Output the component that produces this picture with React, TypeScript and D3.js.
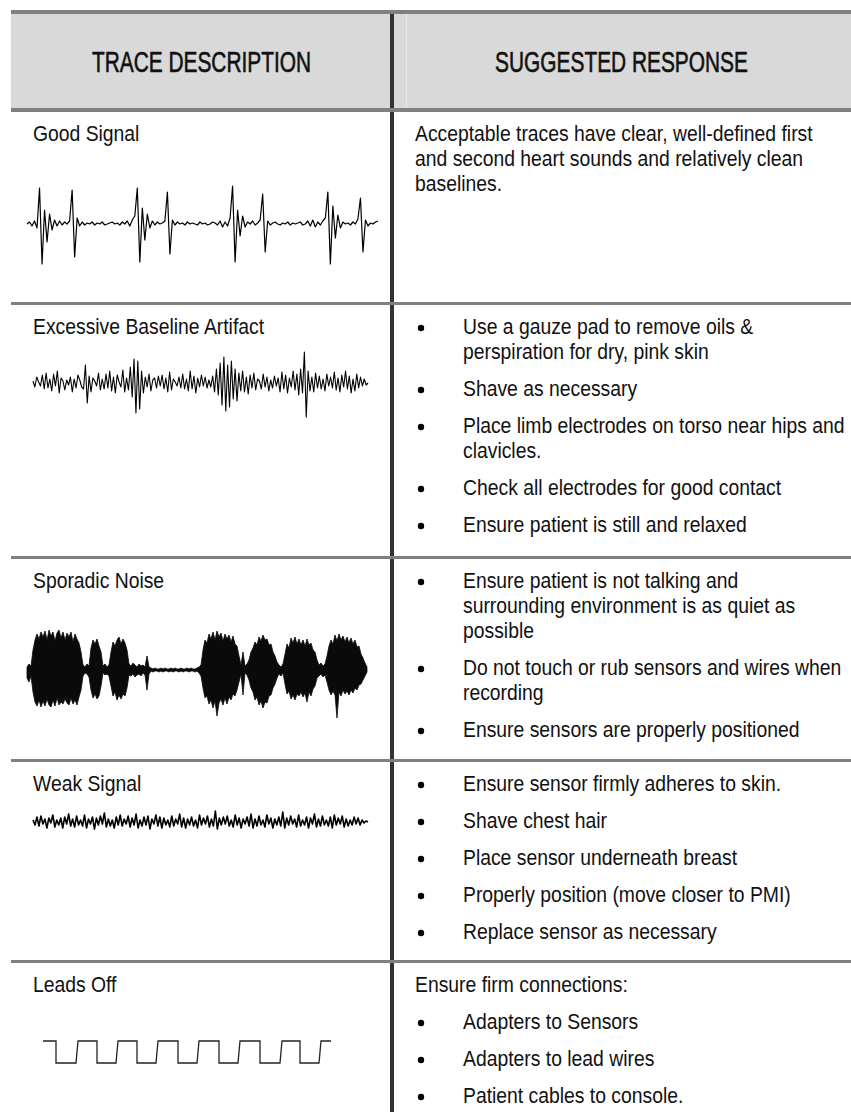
import React from 'react';
import * as d3 from 'd3';

// ---------- data ----------
const headers = ['TRACE DESCRIPTION', 'SUGGESTED RESPONSE'];
const traceLabels = ['Good Signal', 'Excessive Baseline Artifact', 'Sporadic Noise', 'Weak Signal', 'Leads Off'];

type Item = { bullet: boolean; lines: string[] };
const responseGood: Item[] = [
  { bullet: false, lines: ['Acceptable traces have clear, well-defined first', 'and second heart sounds and relatively clean', 'baselines.'] },
];
const responseArtifact: Item[] = [
  { bullet: true, lines: ['Use a gauze pad to remove oils &', 'perspiration for dry, pink skin'] },
  { bullet: true, lines: ['Shave as necessary'] },
  { bullet: true, lines: ['Place limb electrodes on torso near hips and', 'clavicles.'] },
  { bullet: true, lines: ['Check all electrodes for good contact'] },
  { bullet: true, lines: ['Ensure patient is still and relaxed'] },
];
const responseSporadic: Item[] = [
  { bullet: true, lines: ['Ensure patient is not talking and', 'surrounding environment is as quiet as', 'possible'] },
  { bullet: true, lines: ['Do not touch or rub sensors and wires when', 'recording'] },
  { bullet: true, lines: ['Ensure sensors are properly positioned'] },
];
const responseWeak: Item[] = [
  { bullet: true, lines: ['Ensure sensor firmly adheres to skin.'] },
  { bullet: true, lines: ['Shave chest hair'] },
  { bullet: true, lines: ['Place sensor underneath breast'] },
  { bullet: true, lines: ['Properly position (move closer to PMI)'] },
  { bullet: true, lines: ['Replace sensor as necessary'] },
];
const responseLeads: Item[] = [
  { bullet: false, lines: ['Ensure firm connections:'] },
  { bullet: true, lines: ['Adapters to Sensors'] },
  { bullet: true, lines: ['Adapters to lead wires'] },
  { bullet: true, lines: ['Patient cables to console.'] },
];
const responses = [responseGood, responseArtifact, responseSporadic, responseWeak, responseLeads];

// Good signal trace (amplitude, + = up)
const goodSignal = [
  0, 2, -2, 3, -4,
  36, -40, 14, -18, 10, -6, 4, -2, 3, -1, 2, 0, 3,
  34, -33, 6, -2, 2, -1, 1, 0, 2, -1, 1, 0, 2, -1, 0, 1, 2, 0, 1, -1, 2, 0, 3, -2, 4, 8,
  36, -38, 16, -16, 10, -4, 3, -1, 2, 0, 1, 3,
  32, -30, 4, -1, 2, 0, 1, -1, 2, 0, 1, 0, -1, 2, 0, 1, -1, 0, 2, 1, -1, 3, -3, 2, -2, 6,
  38, -38, 14, -12, 8, -3, 2, 0, 3, -1, 1, 4,
  30, -28, 3, -1, 1, 2, 0, -1, 1, 0, 2, -1, 1, 0, 1, 2, -1, 0, 3, -2, 4, -3, 2, -1, 3, 6,
  32, -40, 18, -14, 9, -4, 2, 0, 1, -1, 2, 0, 5,
  26, -28, 4, -2, 1, 0, 2, 3,
];

// Excessive baseline artifact trace
const artifactSignal = [
  2, -4, 6, 1, -3, 8, -6, 10, -5, 4,
  -8, 9, -3, 12, -10, 5, 2, -7, 3, -2,
  6, -9, 4, -5, 8, 3, -4, -6, 18, -20,
  7, -9, 5, 2, -3, 10, -7, 4, -6, 9,
  -5, 12, -8, 6, -10, 8, 1, -4, 13, -9,
  5, -7, 16, -14, 24, -30, 22, -26, 12, -10,
  6, -4, 9, -8, 3, 5, -5, 7, -3, 8,
  -6, 5, -9, 11, -7, 4, 1, -3, 6, -5,
  9, -6, 4, -8, 12, -6, 7, -10, 5, -4,
  8, -3, 6, -5, 3, -4, 7, -9, 14, -12,
  20, -22, 26, -28, 18, -24, 22, -16, 14, -18,
  10, -8, 12, -9, 6, -11, 8, -5, 10, -7,
  4, 2, -6, 9, -4, 6, -8, 3, -5, 7,
  -3, 5, -9, 11, -6, 8, -10, 5, -4, 12,
  -7, 9, -12, 14, -10, 31, -34, 12, -8, 6,
  -9, 10, -5, 7, -6, 4, -8, 9, -3, 6,
  -5, 11, -7, 5, -9, 8, -4, 12, -6, 7,
  -10, 4, -8, 9, -5, 6, -3, 4, -2, 0,
];

// Sporadic noise envelope (upper / lower excursion from baseline)
const sporadicUpper = [
  3, 6, 4,
  20, 30, 36, 31, 38, 33, 39, 30, 40, 34, 38, 29, 37, 40, 32, 38, 30, 37, 33, 38, 28, 36, 31, 27, 18,
  5, 3, 6, 4,
  22, 30, 26, 31, 24, 18,
  4, 6, 3, 5,
  18, 28, 24, 30, 33, 26, 31, 27, 20,
  6, 4, 7, 5, 3, 6, 4, 5, 3, 14, 3,
  2, 1, 2, 1, 1, 2, 1, 2, 1, 1, 2, 1, 2, 1, 1, 2, 1, 1, 2, 1, 2, 1, 1, 2, 3, 5,
  20, 30, 27, 36, 31, 38, 30, 39, 33, 37, 29, 36, 31, 35, 28, 34, 26, 24, 14,
  5, 18, 4, 6,
  10, 18, 22, 28, 25, 33, 29, 35, 30, 31, 25, 26, 18, 14, 8,
  5, 3, 6,
  16, 26, 22, 32, 27, 33, 26, 31, 25, 30, 24, 31, 25, 27, 20, 18, 10,
  5, 7, 4, 6,
  14, 24, 30, 26, 35, 29, 36, 30, 34, 28, 33, 27, 32, 26, 30, 23, 24, 16, 12, 7, 3,
];
const sporadicLower = [
  8, 12, 6,
  22, 32, 36, 30, 37, 31, 36, 29, 35, 37, 30, 36, 28, 35, 32, 34, 29, 33, 35, 28, 34, 30, 35, 27, 20,
  6, 3, 4, 7,
  20, 28, 24, 29, 26, 16,
  3, 5, 4, 6,
  16, 26, 22, 30, 25, 29, 24, 26, 18,
  5, 6, 4, 7, 5, 4, 6, 3, 5, 20, 4,
  1, 2, 1, 1, 2, 1, 2, 1, 1, 2, 1, 2, 1, 1, 2, 1, 2, 1, 1, 2, 1, 1, 2, 1, 3, 6,
  18, 28, 26, 34, 30, 38, 31, 46, 33, 29, 35, 28, 34, 27, 30, 24, 26, 20, 12,
  4, 25, 3, 5,
  10, 18, 22, 30, 27, 35, 31, 38, 32, 33, 26, 25, 18, 14, 8,
  4, 6, 3,
  14, 24, 21, 29, 25, 30, 24, 26, 22, 27, 23, 32, 22, 26, 19, 16, 8,
  6, 4, 7, 5,
  12, 20, 25, 21, 25, 48, 22, 26, 20, 24, 21, 25, 20, 23, 18, 20, 15, 14, 10, 6, 2,
];

// Weak signal trace
const weakSignal = [
  2, -3, 5, -4, 6, -2, 3, -6, 4, -1,
  7, -5, 2, -3, 4, -6, 5, -2, 8, -4,
  3, -5, 6, -3, 2, -4, 7, -6, 3, -2,
  5, -7, 4, -3, 6, -2, 9, -5, 3, -4,
  2, -6, 5, -3, 7, -4, 3, -2, 6, -5,
  4, -3, 8, -6, 2, -4, 5, -3, 6, -7,
  3, -2, 7, -4, 5, -6, 4, -3, 2, -5,
  6, -4, 3, -2, 8, -5, 4, -6, 3, -3,
  5, -4, 2, -6, 7, -3, 4, -2, 6, -5,
  3, -4, 11, -7, 4, -3, 5, -2, 6, -4,
  2, -5, 7, -3, 4, -6, 3, -2, 5, -4,
  8, -6, 3, -4, 6, -3, 2, -5, 7, -2,
  4, -6, 3, -3, 5, -4, 10, -6, 4, -3,
  6, -2, 3, -5, 7, -4, 2, -3, 5, -6,
  4, -2, 8, -5, 3, -4, 6, -3, 2, -4,
  5, -6, 7, -3, 4, -2, 6, -5, 3, -4,
  2, -3, 5, -2, 4, -3, 2, -1, 1, 0,
];

// Leads off square wave: times (ms) of level changes, starting high
const leadsOffEdges = [0, 13, 34, 54, 74, 94, 114, 135, 155, 176, 196, 217, 238, 257, 277, 288];

// ---------- layout ----------
const W = 851;
const H = 1112;
const LEFT = 11;
const DIV_X = 392;
const rowTops = [112, 305, 559, 762, 963];
const rowLines = [303.5, 557.5, 760.5, 961.5];
const FONT = "'Liberation Sans', Arial, Helvetica, sans-serif";

function NText({ x, y, children, anchor = 'start', size = 21.5, weight = 400, sx = 0.9, sw = 0 }: any) {
  return (
    <text
      transform={`translate(${x},${y}) scale(${sx},1)`}
      textAnchor={anchor}
      fontSize={size}
      fontWeight={weight}
      fontFamily={FONT}
      fill="#111"
      stroke={sw ? '#111' : 'none'}
      strokeWidth={sw}
    >
      {children}
    </text>
  );
}

function tracePath(values: number[], x0: number, x1: number, yc: number, k = 1) {
  const x = d3.scaleLinear().domain([0, values.length - 1]).range([x0, x1]);
  const y = d3.scaleLinear().domain([-50, 50]).range([yc + 50 * k, yc - 50 * k]);
  return d3.line<number>().x((_, i) => x(i)).y((d) => y(d))(values) || '';
}

export default function App() {
  // sporadic area
  const spX = d3.scaleLinear().domain([0, sporadicUpper.length - 1]).range([27, 367]);
  const spY = d3.scaleLinear().domain([-50, 50]).range([670 + 50, 670 - 50]);
  const sporadicArea =
    d3
      .area<number>()
      .x((_, i) => spX(i))
      .y0((_, i) => spY(-sporadicLower[i]))
      .y1((d) => spY(d))(sporadicUpper) || '';

  // leads off square wave
  const loX = d3.scaleLinear().domain([0, 288]).range([43, 331]);
  const hiY = 1041;
  const loY = 1063;
  const loPts: [number, number][] = [];
  let high = true;
  leadsOffEdges.forEach((t, i) => {
    if (i === 0) {
      loPts.push([loX(t), hiY]);
      return;
    }
    if (i === leadsOffEdges.length - 1) {
      loPts.push([loX(t), high ? hiY : loY]);
      return;
    }
    if (high) {
      loPts.push([loX(t), hiY], [loX(t), loY]);
    } else {
      loPts.push([loX(t) - 1, loY], [loX(t) + 1, hiY]);
    }
    high = !high;
  });
  const leadsPath = d3.line()(loPts) || '';

  // response text layout
  const textEls: React.ReactNode[] = [];
  responses.forEach((items, r) => {
    let yb = rowTops[r] + 29;
    items.forEach((it, j) => {
      if (j > 0) yb += 12;
      if (it.bullet) {
        textEls.push(<circle key={`b${r}-${j}`} cx={421} cy={yb - 6} r={3.2} fill="#000" />);
      }
      it.lines.forEach((ln, k) => {
        if (k > 0) yb += 25;
        textEls.push(
          <NText key={`t${r}-${j}-${k}`} x={it.bullet ? 463 : 415} y={yb}>
            {ln}
          </NText>
        );
      });
      yb += 25;
    });
  });

  return (
    <svg width={W} height={H} style={{ position: 'absolute', left: 0, top: 0, background: '#fff' }}>
      <rect x={0} y={0} width={W} height={H} fill="#fff" />
      {/* header */}
      <rect x={LEFT} y={12} width={W - LEFT} height={98} fill="#d9d9d9" />
      <line x1={406.5} x2={406.5} y1={14} y2={108} stroke="#e9e9e9" strokeWidth={1} />
      {/* divider */}
      <line x1={DIV_X} x2={DIV_X} y1={12} y2={H} stroke="#333" strokeWidth={4} />
      {/* horizontal rules */}
      <line x1={LEFT} x2={W} y1={12} y2={12} stroke="#808080" strokeWidth={4} />
      <line x1={LEFT} x2={W} y1={110} y2={110} stroke="#808080" strokeWidth={4} />
      {rowLines.map((y, i) => (
        <line key={i} x1={LEFT} x2={W} y1={y} y2={y} stroke="#808080" strokeWidth={3} />
      ))}
      {/* header text */}
      <NText x={(LEFT + DIV_X) / 2} y={72} anchor="middle" size={29} weight={400} sx={0.72} sw={0.6}>
        {headers[0]}
      </NText>
      <NText x={(DIV_X + W) / 2} y={72} anchor="middle" size={29} weight={400} sx={0.72} sw={0.6}>
        {headers[1]}
      </NText>
      {/* labels */}
      {traceLabels.map((t, i) => (
        <NText key={t} x={33} y={rowTops[i] + 29}>
          {t}
        </NText>
      ))}
      {textEls}
      {/* traces */}
      <path d={tracePath(goodSignal, 27, 378, 224)} fill="none" stroke="#000" strokeWidth={1.2} strokeLinejoin="round" />
      <path d={tracePath(artifactSignal, 33, 368, 383)} fill="none" stroke="#000" strokeWidth={1.1} strokeLinejoin="round" />
      <path d={sporadicArea} fill="#0a0a0a" stroke="#0a0a0a" strokeWidth={0.8} />
      <path d={tracePath(weakSignal, 33, 368, 822)} fill="none" stroke="#000" strokeWidth={1.6} strokeLinejoin="round" />
      <path d={leadsPath} fill="none" stroke="#222" strokeWidth={1.3} />
    </svg>
  );
}
